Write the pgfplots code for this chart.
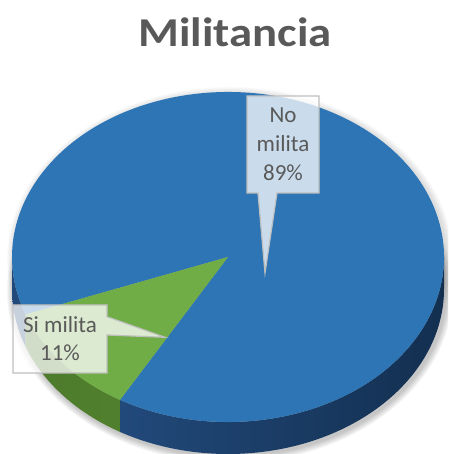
\documentclass[border=0pt]{standalone}
\usepackage{pgfplots}
\pgfplotsset{compat=1.18}
\usepackage{pgfplotstable}
\usepackage{fontspec}
\setmainfont{Carlito}
\definecolor{blueTop}{HTML}{2E75B6}
\definecolor{blueSideL}{HTML}{21497A}
\definecolor{blueSideR}{HTML}{132F50}
\definecolor{greenTop}{HTML}{70AD47}
\definecolor{greenSideL}{HTML}{4C7A2B}
\definecolor{greenSideR}{HTML}{56872F}
\definecolor{txt}{HTML}{595959}
\definecolor{bord}{HTML}{BFBFBF}

\pgfplotstableread{
label value
Si 11
No 89
}\datatable

\newcommand\pieside[4]{%
  \shade[left color=#3,right color=#4] (axis cs:228,197) ++(#1:216pt and 165pt)
    arc[start angle=#1,end angle=#2,x radius=216pt,y radius=165pt]
    -- ++(0,-32pt)
    arc[start angle=#2,end angle=#1,x radius=216pt,y radius=165pt] -- cycle;}

\begin{document}
\begin{tikzpicture}
\pgfplotstablegetelem{0}{value}\of\datatable \let\vSi\pgfplotsretval
\pgfplotstablegetelem{1}{value}\of\datatable \let\vNo\pgfplotsretval
\pgfmathsetmacro{\aStart}{240}
\pgfmathsetmacro{\aMid}{\aStart+\vNo*3.6}
\pgfmathsetmacro{\aEnd}{\aMid+\vSi*3.6}
\pgfmathsetmacro{\aMidL}{\aMid-360}
\begin{axis}[x=1pt,y=1pt,xmin=0,xmax=448,ymin=0,ymax=454,hide axis,scale only axis]
\path (axis cs:0,0) rectangle (axis cs:448,454);
% soft shadow
\pgfplotsinvokeforeach{1,...,7}{
  \fill[black,opacity=0.035] (axis cs:230,163) ellipse [x radius={(216+#1)*1pt}, y radius={(165+#1)*1pt}];
  \fill[black,opacity=0.02] (axis cs:230,195) ellipse [x radius={(216+#1)*1pt}, y radius={(165+#1)*1pt}];
}
% sides
\pieside{180}{\aMidL}{blueSideL}{blueSideL}
\pieside{\aMidL}{\aStart}{greenSideL}{greenSideR}
\pieside{\aStart}{360}{blueSideL}{blueSideR}
% top faces
\fill[blueTop] (axis cs:228,197) -- ++(\aStart:216pt and 165pt)
  arc[start angle=\aStart,end angle=\aMid,x radius=216pt,y radius=165pt] -- cycle;
\fill[greenTop] (axis cs:228,197) -- ++(\aMid:216pt and 165pt)
  arc[start angle=\aMid,end angle=\aEnd,x radius=216pt,y radius=165pt] -- cycle;
% callouts
\filldraw[fill=white,fill opacity=0.75,draw=bord,line width=1.2pt]
  (axis cs:247,358) -- (axis cs:319,358) -- (axis cs:319,261) -- (axis cs:277,261)
  -- (axis cs:265,181) -- (axis cs:258,261) -- (axis cs:247,261) -- cycle;
\filldraw[fill=white,fill opacity=0.75,draw=bord,line width=1.2pt]
  (axis cs:13,149) -- (axis cs:107,149) -- (axis cs:107,137.3) -- (axis cs:165,116.7)
  -- (axis cs:107,119) -- (axis cs:107,81) -- (axis cs:13,81) -- cycle;
\node[txt,font=\fontsize{23}{29}\selectfont,align=center] at (axis cs:283,309.5) {No\\milita\\89\%};
\node[txt,font=\fontsize{23}{28}\selectfont,align=center] at (axis cs:60,115) {Si milita\\11\%};
% title
\node[txt,font=\fontsize{41}{48}\selectfont\bfseries,anchor=base] at (axis cs:235,407) {\scalebox{1.14}[1]{Militancia}};
\end{axis}
\end{tikzpicture}
\end{document}
